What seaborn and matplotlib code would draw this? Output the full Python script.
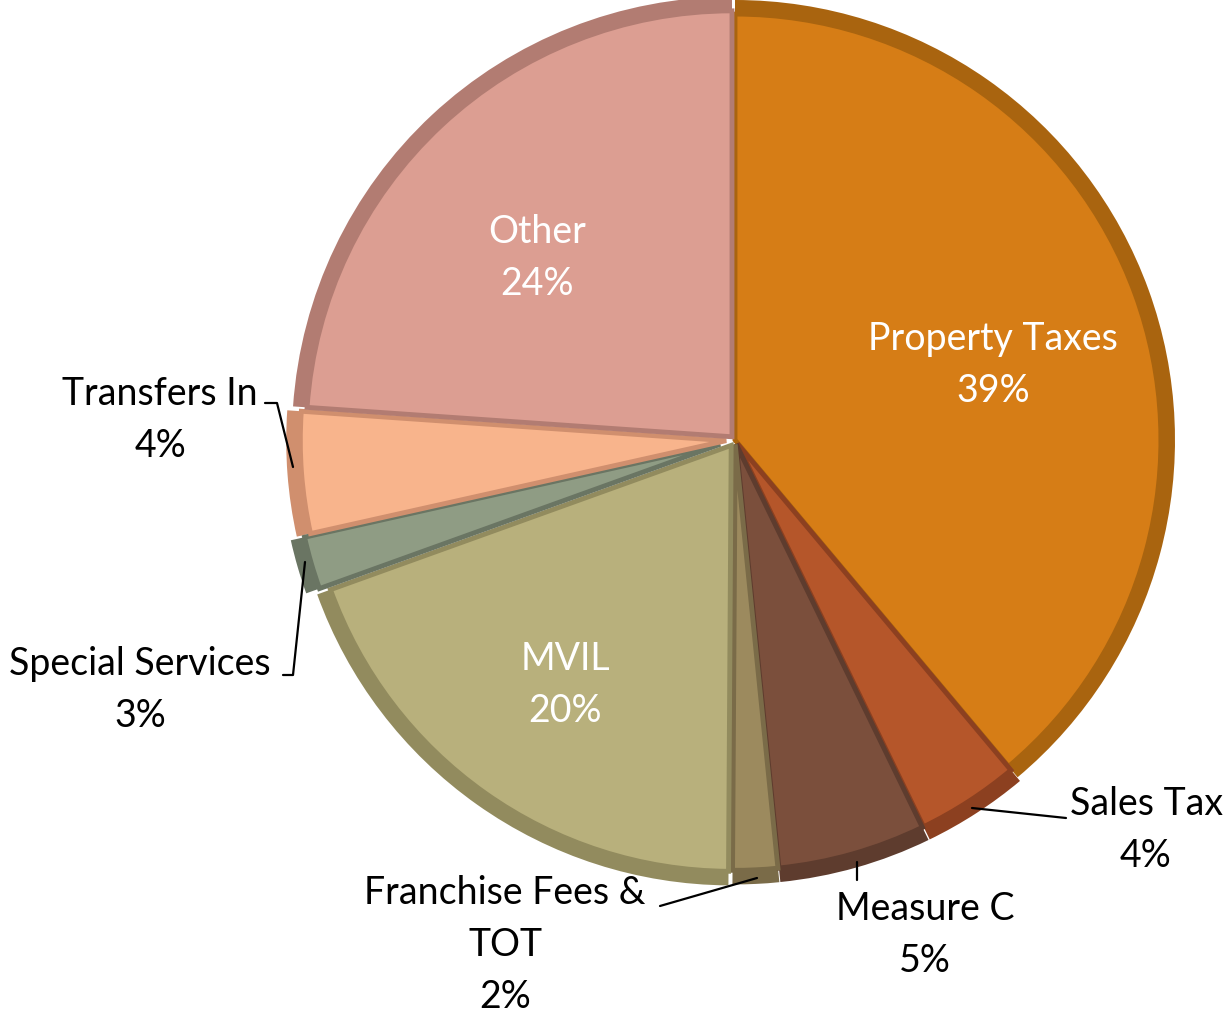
"""Pie chart of General Fund revenue sources, recreated with seaborn + matplotlib."""

import matplotlib

matplotlib.use("Agg")
import matplotlib.pyplot as plt
import seaborn as sns

# Datos (porcentajes; los ángulos se estimaron de la imagen)
categories = [
    "Property Taxes",
    "Sales Tax",
    "Measure C",
    "Franchise Fees &\nTOT",
    "MVIL",
    "Special Services",
    "Transfers In",
    "Other",
]
shares = [38.9, 3.9, 5.6, 1.7, 19.4, 2.0, 4.6, 23.9]
pct_labels = ["39%", "4%", "5%", "2%", "20%", "3%", "4%", "24%"]
colors = ["#D67D16", "#B5562A", "#7B4F3C", "#9C8A5E", "#B8B07C", "#8F9C84", "#F8B48C", "#DC9E92"]
edge_colors = ["#A9640F", "#8C4020", "#5E3C2E", "#7A6B48", "#928B5E", "#6A7563", "#D08F6E", "#B27C72"]
explode = [0.0, 0.01, 0.01, 0.01, 0.015, 0.035, 0.02, 0.01]

sns.set_theme(style="white")
plt.rcParams["font.family"] = ["Lato", "DejaVu Sans"]

W, H, DPI = 1226, 1016, 100
CX, CY, R = 735, 440, 440  # centro y radio del pie en píxeles


def px(x, y):
    """Convierte coordenadas de píxel de la imagen a coordenadas de datos."""
    return (x - CX) / R, (CY - y) / R


fig = plt.figure(figsize=(W / DPI, H / DPI), dpi=DPI)
ax = fig.add_axes([0, 0, 1, 1])
ax.set_axis_off()

# capa base (borde oscuro del bisel)
ax.pie(
    shares, colors=edge_colors, startangle=90, counterclock=False, explode=explode,
    radius=1.0, wedgeprops={"linewidth": 0},
)
# capa superior, un poco más chica para dejar ver el borde
wedges_top, _ = ax.pie(
    shares, colors=colors, startangle=90, counterclock=False, explode=explode,
    radius=0.968, wedgeprops={"linewidth": 3.5},
)
for w, ec in zip(wedges_top, edge_colors):
    w.set_edgecolor(ec)
ax.set_xlim(-CX / R, (W - CX) / R)
ax.set_ylim(-(H - CY) / R, CY / R)
ax.set_aspect("auto")

fs = 27
text_kw = dict(fontsize=fs, ha="center", va="center", linespacing=1.55)

# etiquetas internas (blancas)
inside = {0: (993, 365), 7: (537, 258), 4: (565, 685)}
for i, (x, y) in inside.items():
    ax.text(*px(x, y), f"{categories[i]}\n{pct_labels[i]}", color="white", **text_kw)

# etiquetas externas con línea guía: (texto, codo, punto final en el pie)
outside = {
    1: ((1146, 830), [(1066, 818)], (972, 808)),
    2: ((925, 935), [(857, 880)], (857, 862)),
    3: ((505, 945), [(660, 906)], (757, 878)),
    5: ((140, 690), [(283, 675), (293, 675)], (305, 562)),
    6: ((160, 420), [(265, 403), (277, 403)], (293, 467)),
}
for i, (txt, elbow, end) in outside.items():
    ax.text(*px(*txt), f"{categories[i]}\n{pct_labels[i]}", color="black", **text_kw)
    pts = [px(*p) for p in elbow + [end]]
    xs, ys = zip(*pts)
    ax.plot(xs, ys, color="black", linewidth=1.6)

fig.savefig("out.png", dpi=DPI, facecolor="white")
plt.close(fig)
